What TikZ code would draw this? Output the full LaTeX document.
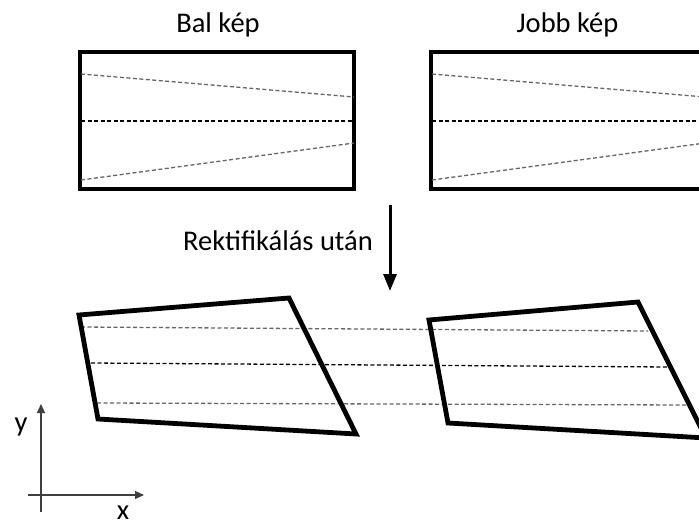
\documentclass[tikz,border=0pt]{standalone}
\usepackage{fontspec}
\setmainfont{Carlito}
\usetikzlibrary{arrows.meta}
\definecolor{dashgray}{HTML}{666666}
\tikzset{
  frame/.style={draw=black, line width=4.8pt, line join=miter},
  epiline/.style={draw=dashgray, line width=1.3pt, dash pattern=on 4pt off 2.5pt},
  midline/.style={draw=black, line width=1.3pt, dash pattern=on 4pt off 2.5pt},
  caption/.style={font=\fontsize{28.5}{33}\selectfont, anchor=base, inner sep=0pt},
  axis/.style={draw=black!75, line width=1.1pt, -{Triangle[length=9pt,width=8pt]}},
}
\begin{document}
\begin{tikzpicture}[x=1pt,y=-1pt]
\useasboundingbox (0,0) rectangle (699,527);
\clip (0,0) rectangle (699,527);

% ---- input images ----
\node[caption] (balcap) at (218,33) {Bal kép};
\node[caption] (jobbcap) at (567.5,33) {Jobb kép};

\node[frame, minimum width=274pt, minimum height=137pt, inner sep=0pt] (bal) at (217,120.5) {};
\node[frame, minimum width=274pt, minimum height=137pt, inner sep=0pt] (jobb) at (568,120.5) {};

% epipolar lines, left image
\coordinate (b1a) at (81,74);  \coordinate (b1b) at (354,97);
\coordinate (b2a) at (81,121); \coordinate (b2b) at (354,121);
\coordinate (b3a) at (81,180); \coordinate (b3b) at (354,143);
\draw[epiline] (b1a) -- (b1b);
\draw[midline] (b2a) -- (b2b);
\draw[epiline] (b3a) -- (b3b);

% epipolar lines, right image
\coordinate (j1a) at (432,74);  \coordinate (j1b) at (705,97);
\coordinate (j2a) at (432,121); \coordinate (j2b) at (705,121);
\coordinate (j3a) at (432,180); \coordinate (j3b) at (705,143);
\draw[epiline] (j1a) -- (j1b);
\draw[midline] (j2a) -- (j2b);
\draw[epiline] (j3a) -- (j3b);

% ---- rectification step ----
\coordinate (arrtop) at (390,205);
\coordinate (arrbot) at (390,291);
\draw[line width=3pt, -{Triangle[length=17pt,width=13pt]}] (arrtop) -- (arrbot);
\node[caption] (rect) at (278,250) {Rektifikálás után};

% ---- rectified images ----
\coordinate (l1) at (79,315);  \coordinate (l2) at (289,298);
\coordinate (l3) at (356,434); \coordinate (l4) at (98,419);
\coordinate (r1) at (429,320); \coordinate (r2) at (638,302);
\coordinate (r3) at (706,438); \coordinate (r4) at (448,423);

\coordinate (h1a) at (81,327);  \coordinate (h1b) at (648,331);
\coordinate (h2a) at (91,363);  \coordinate (h2b) at (668,367);
\coordinate (h3a) at (97,403);  \coordinate (h3b) at (687,405);
\draw[epiline] (h1a) -- (h1b);
\draw[midline] (h2a) -- (h2b);
\draw[epiline] (h3a) -- (h3b);

\draw[frame] (l1) -- (l2) -- (l3) -- (l4) -- cycle;
\draw[frame] (r1) -- (r2) -- (r3) -- (r4) -- cycle;

% ---- axes ----
\coordinate (ybot) at (41,512);
\coordinate (ytop) at (41,404);
\coordinate (xleft) at (28,495);
\coordinate (xright) at (144,495);
\draw[axis] (ybot) -- (ytop);
\draw[axis] (xleft) -- (xright);
\node[caption] (ylab) at (21,431) {y};
\node[caption] (xlab) at (123,519) {x};
\end{tikzpicture}
\end{document}
